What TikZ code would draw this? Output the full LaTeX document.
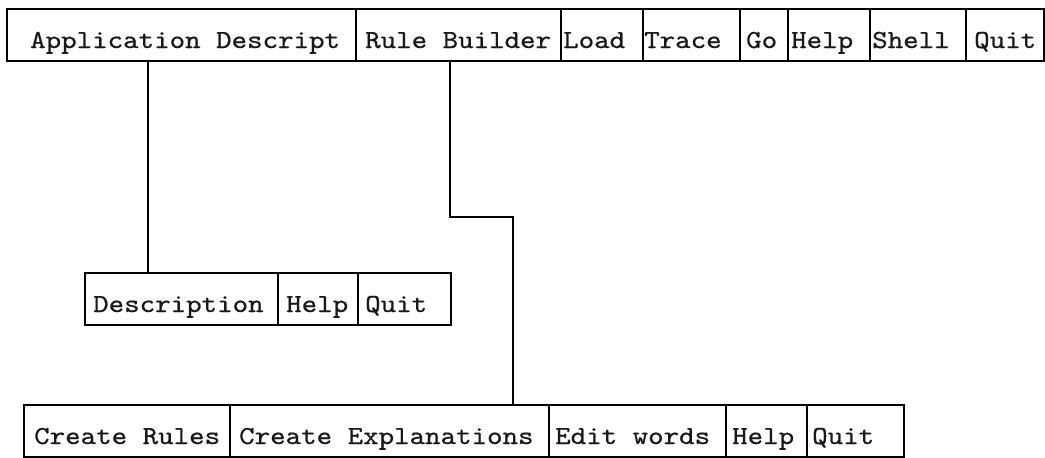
\documentclass[tikz,border=0pt]{standalone}
\usepackage{fontspec}
% typewriter face for the menu labels, widened and darkened a little
\newfontfamily\menufont[FakeStretch=1.135, FakeBold=0.6]{lmmono10-regular.otf}
\begin{document}
\begin{tikzpicture}[x=1pt,y=-1pt,
  cell/.style={draw=black, line width=1.7pt, anchor=north west,
    inner sep=0pt, minimum height=52pt},
  caption/.style={anchor=base west, inner sep=0pt, text=black!90,
    font=\menufont\fontsize{26}{30}\selectfont},
  wire/.style={draw=black, line width=1.7pt}]
\useasboundingbox (0,0) rectangle (1045,458);
\fill[white] (0,0) rectangle (1045,458);

% one menu cell: name, left x, right x, top y, text inset, label
\newcommand\menucell[6]{%
  \pgfmathsetmacro\cellw{#3-#2}%
  \node[cell, minimum width=\cellw pt] (#1) at (#2,#4) {};
  \node[caption] (#1-text) at ([xshift=#5pt, yshift=-40pt]#1.north west) {#6};}

% main menu bar
\menucell{app}{6}{355}{8}{24}{Application Descript}
\menucell{rule}{355}{560}{8}{10}{Rule Builder}
\menucell{load}{560}{642}{8}{3}{Load}
\menucell{trace}{642}{739}{8}{2}{Trace}
\menucell{go}{739}{787}{8}{7}{Go}
\menucell{help}{787}{869}{8}{4}{Help}
\menucell{shell}{869}{965}{8}{3}{Shell}
\menucell{quit}{965}{1043}{8}{9}{Quit}

% application description submenu
\menucell{desc}{84}{277}{272}{9}{Description}
\menucell{deschelp}{277}{357}{272}{9}{Help}
\menucell{descquit}{357}{450}{272}{8}{Quit}

% rule builder submenu
\menucell{crules}{23}{229}{404}{11}{Create Rules}
\menucell{cexpl}{229}{548}{404}{10}{Create Explanations}
\menucell{edit}{548}{725}{404}{7}{Edit words}
\menucell{rbhelp}{725}{806}{404}{7}{Help}
\menucell{rbquit}{806}{903}{404}{6}{Quit}

% connectors
\coordinate (appdrop) at (148,0);
\coordinate (rbdrop) at (450,0);
\coordinate (rbjog) at (513,217);
\draw[wire] (app.south -| appdrop) -- (appdrop |- desc.north);
\draw[wire] (rule.south -| rbdrop) |- (rbjog) -- (rbjog |- cexpl.north);
\end{tikzpicture}
\end{document}
